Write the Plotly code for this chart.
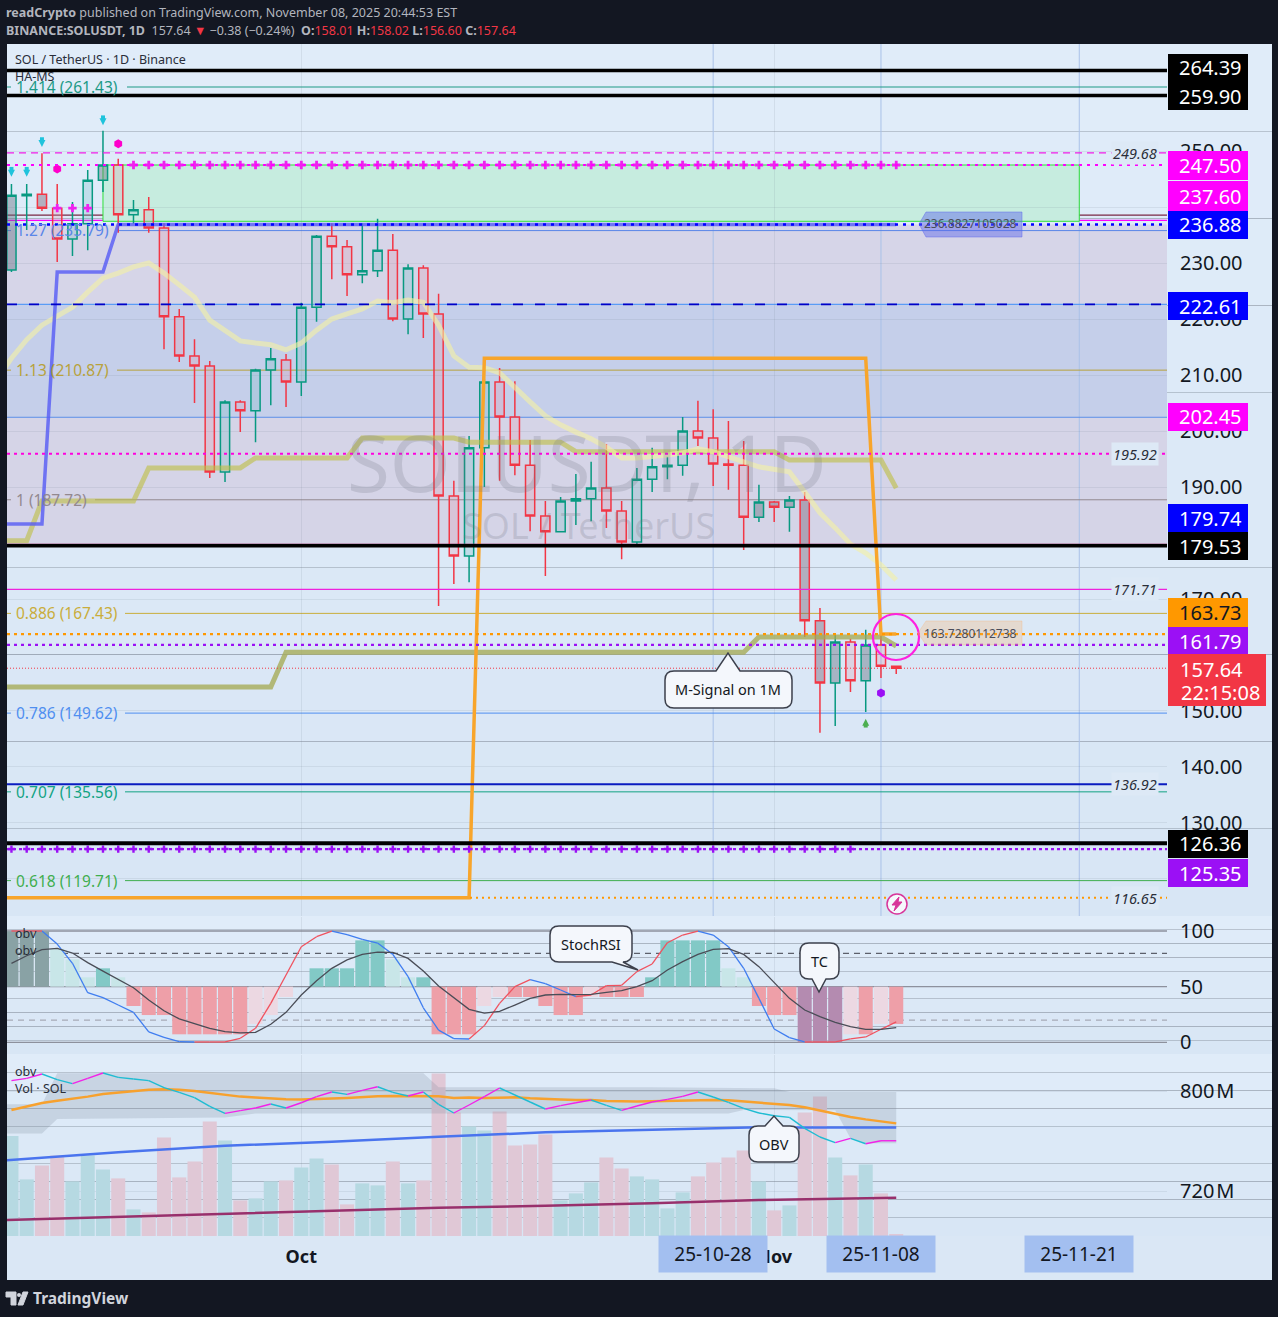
import pandas as pd
import plotly.graph_objects as go
from plotly.subplots import make_subplots

FONT = "Noto Sans"
INK = "#131722"

# daily bars, 2025-09-12 .. 2025-11-09
dates = pd.date_range("2025-09-12", "2025-11-09", freq="D")
dates_ext = pd.date_range("2025-09-11", "2025-11-09", freq="D")

opens = [228.75, 242.0, 242.3, 239.8, 234.3, 237.0, 244.8, 247.5, 238.6, 239.5,
         236.25, 220.4, 213.4, 211.6, 192.7, 205.2, 203.6, 210.9, 212.7, 208.75,
         222.1, 234.8, 232.9, 227.9, 228.6, 232.3, 220.0, 229.1, 220.9, 188.4,
         177.7, 197.0, 208.75, 202.5, 193.9, 184.8, 182.0, 187.5, 187.9, 189.8,
         185.7, 180.2, 191.4, 193.6, 193.9, 200.0, 198.75, 194.1, 193.9, 184.6,
         187.3, 186.4, 187.7, 166.1, 155.0, 162.3, 155.4, 161.8, 158.01]
highs = [244.1, 244.1, 249.6, 244.1, 240.9, 246.6, 253.6, 248.6, 241.25, 241.8,
         237.1, 221.8, 216.4, 212.5, 205.5, 205.5, 211.1, 214.8, 213.75, 222.9,
         235.0, 237.1, 234.1, 237.1, 237.9, 235.2, 229.8, 229.6, 224.5, 191.1,
         199.1, 209.3, 211.25, 208.9, 198.4, 187.5, 188.2, 192.3, 194.5, 197.7,
         187.5, 193.4, 197.0, 195.4, 202.5, 205.4, 203.9, 201.8, 198.2, 190.4,
         187.5, 188.4, 189.1, 168.4, 163.9, 162.9, 164.5, 165.0, 158.02]
lows = [228.4, 235.9, 239.3, 230.2, 231.25, 232.3, 242.7, 235.4, 237.0, 235.4,
        214.6, 212.3, 205.0, 191.6, 190.9, 199.8, 198.0, 204.6, 204.3, 206.25,
        219.5, 227.1, 224.1, 226.4, 227.5, 219.6, 217.3, 216.6, 168.75, 172.7,
        173.0, 190.0, 191.1, 192.1, 182.1, 174.1, 182.0, 183.2, 183.9, 182.7,
        177.1, 179.8, 189.1, 191.4, 192.0, 197.3, 190.2, 189.5, 178.75, 183.75,
        183.75, 182.0, 163.2, 146.1, 147.3, 153.4, 149.8, 155.9, 156.6]
closes = [242.1, 242.3, 239.8, 234.3, 237.0, 244.8, 247.5, 238.6, 239.5, 236.25,
          220.4, 213.4, 211.6, 192.7, 205.2, 203.6, 210.9, 212.9, 208.75, 222.1,
          234.8, 232.9, 227.9, 228.6, 232.3, 220.0, 229.1, 220.9, 188.4, 177.7,
          197.0, 208.75, 202.5, 193.9, 184.8, 182.0, 187.5, 187.9, 189.8, 185.7,
          180.2, 191.4, 193.6, 193.9, 200.0, 198.75, 194.1, 193.9, 184.6, 187.3,
          186.4, 187.7, 166.1, 155.0, 162.3, 155.4, 161.8, 158.0, 157.64]
# bars whose body reads darker in the picture
dark_bars = ["2025-09-12", "2025-09-13", "2025-09-14", "2025-09-18", "2025-10-31", "2025-11-01",
             "2025-11-02", "2025-11-03", "2025-11-04", "2025-11-05", "2025-11-07"]

pale_ma = [209.1, 213.0, 216.3, 218.9, 220.5, 222.1, 224.8, 227.3, 228.2, 229.3, 230.0,
           228.2, 226.1, 223.9, 219.8, 218.0, 216.1, 215.7, 215.4, 214.5, 215.7,
           218.0, 220.0, 220.9, 221.8, 223.2, 222.9, 223.4, 223.0, 218.9, 213.4,
           211.4, 211.3, 210.4, 207.7, 205.2, 202.7, 201.1, 199.8, 198.6, 197.1,
           195.2, 195.2, 195.4, 195.7, 196.1, 196.8, 196.3, 195.5, 194.5, 193.6,
           193.2, 192.7, 189.1, 185.4, 182.7, 179.8, 178.2, 176.1, 173.4]
ha_ms = [183.4] * 4 + [228.4] * 4 + [236.88] * 52
msignal_1w = [180.4] * 3 + [187.5] * 7 + [193.4] * 7 + [195.2] * 7 + [198.75] * 7 + [198.0] * 7 \
    + [196.3] * 14 + [194.8] * 7 + [189.8]
msignal_1m = [154.3] * 19 + [160.5] * 31 + [163.2] * 9 + [161.6]
step_1m = [116.65] * 32 + [213.0] * 26 + [163.73] * 2

cross_upper_dates = ["2025-09-15", "2025-09-16", "2025-09-17"]
cross_upper_vals = [239.8, 239.8, 239.8]
cross_top_dates = dates[8:]
cross_low_dates = dates[:56]
arrow_dn_dates = ["2025-09-12", "2025-09-13", "2025-09-14", "2025-09-18"]
arrow_dn_tips = [245.4, 245.4, 250.7, 254.6]
pink_dates = ["2025-09-15", "2025-09-19"]
pink_vals = [246.8, 251.3]

# fib levels: label, price, colour
fib_labels = ["1.414 (261.43)", "1.27 (235.79)", "1.13 (210.87)", "1 (187.72)",
              "0.886 (167.43)", "0.786 (149.62)", "0.707 (135.56)", "0.618 (119.71)"]
fib_prices = [261.43, 235.79, 210.87, 187.72, 167.43, 149.62, 135.56, 119.71]
fib_colors = ["#1c9a86", "#5a86e8", "#b8a23c", "#93898f", "#c9ad3c", "#4f8ff0", "#12a383", "#3fae4f"]

price_ticks = [120, 130, 140, 150, 160, 170, 180, 190, 200, 210, 220, 230, 240, 250, 260]
# 120, 160, 180, 240 and 260 sit fully behind a price tag in the picture
price_tick_text = ["", "130.00", "140.00", "150.00", "", "170.00", "", "190.00", "200.00", "210.00",
                   "220.00", "230.00", "", "250.00", ""]

# stochastic pane
hist_top = [99.7, 99.7, 99.7, 84.0, 74.6, 58.4, 66.5, 58.4, 32.6, 24.5,
            24.5, 7.2, 7.2, 7.2, 7.2, 7.2, 16.5, 24.5, 40.7, 50.0,
            66.5, 66.5, 66.5, 91.6, 91.6, 74.6, 58.4, 58.4, 7.2, 7.2,
            7.2, 32.6, 40.7, 40.7, 40.7, 32.6, 24.5, 24.5, 40.7, 40.7,
            40.7, 40.7, 58.4, 91.6, 91.6, 91.6, 91.6, 66.5, 58.4, 32.6,
            24.5, 24.5, 0.0, 0.0, 0.0, 7.2, 7.2, 16.5, 16.5]
hist_state = ["tc_up"] * 3 + ["up_weak"] * 3 + ["up"] + ["up_weak"] + ["down"] * 8 + ["down_weak"] * 3 + ["none"] \
    + ["up"] * 5 + ["up_weak"] * 2 + ["up"] + ["down"] * 3 + ["down_weak"] * 2 + ["down"] * 5 + ["down_weak"] \
    + ["down"] * 3 + ["up"] * 5 + ["up_weak"] * 2 + ["down"] * 3 + ["tc"] * 3 + ["down_weak", "down", "down_weak", "down"]
stoch_k = [100, 100, 100, 88.3, 71, 44.6, 40.1, 33.5, 26.9, 9.3,
           4.5, 0.6, 0.3, 0.3, 0.3, 3.6, 12.6, 35, 60.5, 85.9,
           94.9, 100, 96.7, 92.5, 89.2, 79, 59, 31, 11, 3.3,
           3, 15, 35, 50, 56.3, 52.7, 47, 41, 42.5, 50.9,
           51.2, 63.5, 70.4, 89.5, 96.4, 100, 96.4, 85.9, 66.5, 39.5,
           12, 4.2, 0.3, 0.3, 0.3, 3, 4.8, 11.7, 18.3]
stoch_d = [71, 77.8, 83.2, 84.4, 80.2, 71.6, 64, 56.6, 49.1, 38,
           28.4, 21, 16.5, 12.6, 9.6, 8.4, 9, 16.2, 26.9, 42.5,
           55.4, 66.5, 74, 79, 81.1, 80.8, 75.4, 64, 50.6, 40,
           29.6, 26.3, 27.8, 33.5, 39.5, 42.5, 43, 42.8, 43, 44.9,
           46.4, 50, 55.4, 65, 72.5, 79, 83.5, 84.1, 79, 68,
           53.6, 39.5, 29, 23, 18, 14, 11.7, 11.7, 13.2]

# volume pane
volume = [5.0, 2.83, 3.53, 4.03, 2.73, 4.03, 3.33, 2.88, 1.33, 1.18,
          4.93, 2.93, 3.73, 5.73, 4.78, 1.78, 1.88, 2.73, 2.78, 3.43,
          3.88, 3.58, 1.58, 2.63, 2.53, 3.73, 2.63, 2.78, 8.13, 6.18,
          5.48, 5.28, 6.23, 4.53, 4.58, 5.08, 1.78, 2.13, 2.68, 3.93,
          3.38, 2.98, 2.83, 1.38, 2.18, 2.98, 3.68, 3.93, 4.28, 2.73,
          1.28, 1.53, 6.18, 6.98, 3.93, 3.03, 3.58, 2.13, 0.08]
obv = [808.3, 810.1, 813.6, 809.1, 805.9, 810.1, 814.4, 810.9, 809.6, 808.3,
       802.7, 798.9, 794.7, 787.7, 782.1, 784.3, 786.4, 789.6, 786.4, 790.6,
       795.5, 799.2, 797.3, 800.5, 803.4, 798.9, 796.0, 799.2, 789.3, 782.4,
       788.8, 795.5, 802.4, 796.8, 791.2, 785.6, 788.3, 790.6, 792.8, 788.5,
       784.5, 788.0, 791.2, 793.3, 795.7, 799.2, 795.2, 790.9, 786.1, 782.4,
       780.2, 778.9, 770.1, 763.2, 758.7, 762.1, 757.8, 760.2, 760.2]
obv_ma = [784.8, 787.5, 790.4, 792.2, 793.6, 795.5, 797.6, 798.9, 800.0, 801.0,
          801.3, 801.0, 800.0, 798.6, 796.8, 795.5, 794.7, 793.9, 793.3, 793.1,
          793.3, 793.9, 794.4, 795.2, 795.7, 796.0, 796.0, 796.3, 795.7, 794.4,
          794.7, 794.4, 794.9, 794.9, 794.1, 793.3, 793.1, 792.8, 792.8, 792.0,
          791.5, 791.5, 791.7, 792.0, 792.5, 792.8, 792.8, 792.5, 791.7, 790.6,
          789.9, 788.8, 787.0, 784.3, 781.6, 779.2, 777.3, 775.5, 774.1]
slow_dates = ["2025-09-11", "2025-09-19", "2025-09-26", "2025-10-03", "2025-10-10",
              "2025-10-17", "2025-10-24", "2025-10-31", "2025-11-09"]
slow_blue = [744.0, 750.9, 756.2, 759.4, 763.4, 766.9, 769.0, 770.9, 770.7]
slow_maroon = [696.5, 699.2, 701.8, 704.2, 706.6, 708.2, 710.1, 712.8, 714.6]
band_up_dates = ["2025-09-11", "2025-09-14", "2025-09-15", "2025-10-09", "2025-10-10", "2025-10-24",
                 "2025-11-01", "2025-11-02", "2025-11-09"]
band_up = [789.3, 789.3, 814.1, 814.1, 803.0, 803.0, 802.1, 799.2, 799.2]
band_lo_dates = ["2025-09-11", "2025-09-14", "2025-09-15", "2025-09-26", "2025-09-28", "2025-10-29",
                 "2025-10-30", "2025-11-05", "2025-11-06", "2025-11-07", "2025-11-09"]
band_lo = [765.9, 765.9, 777.6, 778.7, 781.9, 781.9, 784.8, 784.5, 762.1, 758.1, 758.1]


def px(x):
    return (x - 7) / 1160


def py(y):
    return (1236 - y) / 1192


def stripes(top, bottom, left=7, right=1272, steps=10):
    out = []
    for i in range(steps):
        t = i / (steps - 1)
        rgb = (round(224 - 8 * t), round(236 - 6 * t), round(249 - 4 * t))
        y0 = top + (bottom - top) * i / steps
        y1 = top + (bottom - top) * (i + 1) / steps
        out.append(dict(type="rect", xref="paper", yref="paper", x0=px(left), x1=px(right), y0=py(y1), y1=py(y0),
                        fillcolor="rgb%s" % (rgb,), line_width=0, layer="below"))
    return out


def hline(price, color, width=1, dash="solid", left=7, right=1167, layer="above"):
    return dict(type="line", xref="x domain", yref="y", x0=px(left), x1=px(right), y0=price, y1=price,
                line=dict(color=color, width=width, dash=dash), layer=layer)


def text(x, y, s, size=13, color=INK, anchor="left", **kw):
    return dict(xref="paper", yref="paper", x=px(x), y=py(y), text=s, showarrow=False, xanchor=anchor,
                yanchor="middle", font=dict(family=FONT, size=size, color=color), **kw)


def callout(x0, y0, x1, y1, tip, side, base):
    r = 9
    bx0, bx1 = base
    P = lambda a, b: "%.5f %.5f" % (px(a), py(b))
    d = "M" + P(x0 + r, y0)
    if side == "top":
        d += " L" + P(bx0, y0) + " L" + P(*tip) + " L" + P(bx1, y0)
    d += " L" + P(x1 - r, y0) + " Q" + P(x1, y0) + " " + P(x1, y0 + r)
    d += " L" + P(x1, y1 - r) + " Q" + P(x1, y1) + " " + P(x1 - r, y1)
    if side == "bottom":
        d += " L" + P(bx1, y1) + " L" + P(*tip) + " L" + P(bx0, y1)
    d += " L" + P(x0 + r, y1) + " Q" + P(x0, y1) + " " + P(x0, y1 - r)
    d += " L" + P(x0, y0 + r) + " Q" + P(x0, y0) + " " + P(x0 + r, y0) + " Z"
    return dict(type="path", xref="paper", yref="paper", path=d, fillcolor="#f4f7fc",
                line=dict(color="#3c404c", width=1.5), layer="above")


def poly(points, fill, line=None):
    d = "M" + " L".join("%.5f %.5f" % (px(a), py(b)) for a, b in points) + " Z"
    return dict(type="path", xref="paper", yref="paper", path=d, fillcolor=fill,
                line=dict(color=line or fill, width=1), layer="above")


fig = make_subplots(rows=3, cols=1, shared_xaxes=True, vertical_spacing=0.001,
                    specs=[[{}], [{}], [{"secondary_y": True}]])

# candles
dark_idx = [i for i, d in enumerate(dates) if d.strftime("%Y-%m-%d") in dark_bars]
light_idx = [i for i in range(len(dates)) if i not in dark_idx]
for idx, up_fill, dn_fill in [(light_idx, "rgba(125,190,200,0.30)", "rgba(225,150,170,0.26)"),
                              (dark_idx, "rgba(95,110,125,0.42)", "rgba(120,95,115,0.42)")]:
    fig.add_trace(go.Candlestick(x=dates[idx], open=[opens[i] for i in idx], high=[highs[i] for i in idx],
                                 low=[lows[i] for i in idx], close=[closes[i] for i in idx], whiskerwidth=0,
                                 increasing=dict(line=dict(color="#089981", width=1.5), fillcolor=up_fill),
                                 decreasing=dict(line=dict(color="#f23645", width=1.5), fillcolor=dn_fill),
                                 hoverinfo="skip"), row=1, col=1)

fig.add_trace(go.Scatter(x=dates_ext, y=msignal_1w, mode="lines", line=dict(color="rgba(190,190,70,0.62)", width=5)), row=1, col=1)
fig.add_trace(go.Scatter(x=dates_ext, y=msignal_1m, mode="lines", line=dict(color="rgba(165,170,85,0.78)", width=5)), row=1, col=1)
fig.add_trace(go.Scatter(x=dates_ext, y=pale_ma, mode="lines", line=dict(color="rgba(243,240,165,0.62)", width=5)), row=1, col=1)
fig.add_trace(go.Scatter(x=dates_ext, y=ha_ms, mode="lines", line=dict(color="rgba(85,90,245,0.8)", width=3.5)), row=1, col=1)
fig.add_trace(go.Scatter(x=dates_ext, y=step_1m, mode="lines", line=dict(color="#f8a52b", width=3.5)), row=1, col=1)

fig.add_trace(go.Scatter(x=cross_upper_dates, y=cross_upper_vals, mode="markers",
                         marker=dict(symbol="cross", size=7, color="#ee22ee", line_width=0)), row=1, col=1)
fig.add_trace(go.Scatter(x=cross_top_dates, y=[247.5] * len(cross_top_dates), mode="markers",
                         marker=dict(symbol="cross", size=7, color="#ee22ee", line_width=0)), row=1, col=1)
fig.add_trace(go.Scatter(x=cross_low_dates, y=[125.35] * len(cross_low_dates), mode="markers",
                         marker=dict(symbol="cross", size=6, color="#9b10f5", line_width=0)), row=1, col=1)
# arrows: head anchored on its tip, plus a short stem behind it
fig.add_trace(go.Scatter(x=arrow_dn_dates, y=[t + 1.4 for t in arrow_dn_tips], mode="markers",
                         marker=dict(symbol="square", size=4, color="#1fc3dc", line_width=0)), row=1, col=1)
fig.add_trace(go.Scatter(x=arrow_dn_dates, y=arrow_dn_tips, mode="markers",
                         marker=dict(symbol="arrow-down", size=7, color="#1fc3dc", line_width=0)), row=1, col=1)
fig.add_trace(go.Scatter(x=pink_dates, y=pink_vals, mode="markers",
                         marker=dict(symbol="hexagon", size=9, color="#ff00cc", line_width=0)), row=1, col=1)
fig.add_trace(go.Scatter(x=["2025-11-08"], y=[153.2], mode="markers",
                         marker=dict(symbol="hexagon", size=9, color="#9b10f5", line_width=0)), row=1, col=1)
fig.add_trace(go.Scatter(x=["2025-11-07"], y=[147.4], mode="markers",
                         marker=dict(symbol="square", size=4, color="#4caf50", line_width=0)), row=1, col=1)
fig.add_trace(go.Scatter(x=["2025-11-07"], y=[148.6], mode="markers",
                         marker=dict(symbol="arrow-up", size=7, color="#4caf50", line_width=0)), row=1, col=1)

# stochastic pane
state_color = {"tc_up": "#89a2a5", "up": "#82c9c6", "up_weak": "#c8e6e8", "down": "#ee9fa8", "down_weak": "#ecd8e2",
               "tc": "#b48bb0", "none": "rgba(0,0,0,0)"}
fig.add_trace(go.Bar(x=dates, y=[v - 50 for v in hist_top], base=50, width=86400000 * 0.92,
                     marker=dict(color=[state_color[s] for s in hist_state], line_width=0)), row=2, col=1)
rise_x, rise_y, fall_x, fall_y = [], [], [], []
for i in range(1, len(stoch_k)):
    if stoch_k[i] >= stoch_k[i - 1]:
        rise_x += [dates[i - 1], dates[i], None]
        rise_y += [stoch_k[i - 1], stoch_k[i], None]
    else:
        fall_x += [dates[i - 1], dates[i], None]
        fall_y += [stoch_k[i - 1], stoch_k[i], None]
fig.add_trace(go.Scatter(x=fall_x, y=fall_y, mode="lines", line=dict(color="#3f7df0", width=1.3)), row=2, col=1)
fig.add_trace(go.Scatter(x=rise_x, y=rise_y, mode="lines", line=dict(color="#f0525f", width=1.3)), row=2, col=1)
fig.add_trace(go.Scatter(x=dates, y=stoch_d, mode="lines", line=dict(color="#4a4d57", width=1.3)), row=2, col=1)

# volume pane: bars on the primary scale, obv lines on the secondary one so they draw on top
vol_colors = ["#e0c8d6" if c < o else "#b6d9e2" for o, c in zip(opens, closes)]
fig.add_trace(go.Bar(x=dates, y=volume, width=86400000 * 0.92, marker=dict(color=vol_colors, line_width=0)),
              row=3, col=1)
fig.add_trace(go.Scatter(x=band_up_dates + band_lo_dates[::-1], y=band_up + band_lo[::-1], mode="lines",
                         fill="toself", fillcolor="rgba(120,130,150,0.22)", line=dict(width=0)),
              row=3, col=1, secondary_y=True)
fig.add_trace(go.Scatter(x=slow_dates, y=slow_blue, mode="lines", line=dict(color="#4a74ee", width=2.5)),
              row=3, col=1, secondary_y=True)
fig.add_trace(go.Scatter(x=slow_dates, y=slow_maroon, mode="lines", line=dict(color="#98306c", width=2.5)),
              row=3, col=1, secondary_y=True)
fig.add_trace(go.Scatter(x=dates, y=obv_ma, mode="lines", line=dict(color="#f7a12e", width=2.5)),
              row=3, col=1, secondary_y=True)
obv_up_x, obv_up_y, obv_dn_x, obv_dn_y = [], [], [], []
for i in range(1, len(obv)):
    if obv[i] >= obv[i - 1]:
        obv_up_x += [dates[i - 1], dates[i], None]
        obv_up_y += [obv[i - 1], obv[i], None]
    else:
        obv_dn_x += [dates[i - 1], dates[i], None]
        obv_dn_y += [obv[i - 1], obv[i], None]
fig.add_trace(go.Scatter(x=obv_dn_x, y=obv_dn_y, mode="lines", line=dict(color="#1fbcd2", width=1.4)),
              row=3, col=1, secondary_y=True)
fig.add_trace(go.Scatter(x=obv_up_x, y=obv_up_y, mode="lines", line=dict(color="#f222e8", width=1.4)),
              row=3, col=1, secondary_y=True)

shapes = []
shapes += stripes(44, 916) + stripes(916, 1054) + stripes(1054, 1236)
shapes.append(dict(type="rect", xref="paper", yref="paper", x0=px(7), x1=px(1272), y0=py(1280), y1=py(1236),
                   fillcolor="#dae7f5", line_width=0, layer="below"))

# fib zones and the green box sit under the grid
for top, bot, col in [(236.88, 222.61, "#d6d5e8"), (222.61, 202.45, "#c5cfea"), (202.45, 179.74, "#d5d4e7")]:
    shapes.append(dict(type="rect", xref="x domain", yref="y", x0=0, x1=1, y0=bot, y1=top,
                       fillcolor=col, line_width=0, layer="below"))
shapes.append(dict(type="rect", xref="x", yref="y", x0="2025-09-18", x1="2025-11-21", y0=237.45, y1=247.5,
                   fillcolor="#c6ecdf", line=dict(color="#2fe03a", width=1), layer="below"))

# vertical markers
for day in ["2025-10-28", "2025-11-08", "2025-11-21"]:
    shapes.append(dict(type="line", xref="x", yref="y domain", x0=day, x1=day, y0=0, y1=1,
                       line=dict(color="#a9c1e8", width=1), layer="below"))

# fib lines, broken by their labels
fib_starts = [127, 119, 117, 95, 125, 125, 125, 125]
for p, c, st in zip(fib_prices, fib_colors, fib_starts):
    shapes.append(hline(p, c, 1, left=st, layer="below"))
    shapes.append(hline(p, c, 1, left=7, right=11, layer="below"))

shapes += [
    hline(238.55, "#7a2745", 1.2, layer="below"),
    hline(237.60, "#ff00ff", 1.2, layer="below"),
    hline(236.88, "#0000ff", 2.5, "3px,5px"),
    hline(264.39, "#000000", 3.5), hline(259.90, "#000000", 3.5),
    hline(249.68, "#f01fe8", 1.2, "7px,5px"),
    hline(247.50, "#ff00ff", 2.2, "3px,5px"),
    hline(222.61, "#5a9cf5", 1.2, layer="below"),
    hline(222.61, "#0000c8", 1.8, "10px,12px"),
    hline(202.45, "#5b8ee8", 1, layer="below"),
    hline(195.92, "#ff00e0", 2, "3px,4px"),
    hline(179.74, "#8a0a4c", 1.5), hline(179.53, "#000000", 3.5),
    hline(171.71, "#ee22dd", 1.2),
    hline(163.73, "#ff9800", 2.2, "3px,4px"),
    hline(161.79, "#9b10f5", 2.2, "3px,4px"),
    hline(157.64, "#f23645", 1, "1px,2px"),
    hline(136.92, "#0a1cc0", 2.2),
    hline(126.36, "#000000", 4),
    hline(125.35, "#9b10f5", 2.2, "3px,3px"),
    hline(116.65, "#ff9800", 1.8, "2px,4px", left=470),
]

# reference levels in the lower panes
for lev, col, dsh in [(100, "#8d919d", "solid"), (50, "#8d919d", "solid"), (0, "#8d919d", "solid"),
                      (80, "#5c606b", "6px,5px"), (20, "#a7abb6", "6px,5px")]:
    shapes.append(dict(type="line", xref="x2 domain", yref="y2", x0=0, x1=1, y0=lev, y1=lev,
                       line=dict(color=col, width=1.3, dash=dsh), layer="below"))

# circle, floating tags and callouts
shapes.append(dict(type="circle", xref="paper", yref="paper", x0=px(873), x1=px(919), y0=py(660), y1=py(614),
                   line=dict(color="#ff20e0", width=2.2), layer="above"))
shapes.append(poly([(919, 224), (926, 212), (1022, 212), (1022, 237), (926, 237)], "rgba(90,100,235,0.45)"))
shapes.append(poly([(918, 633), (926, 621), (1022, 621), (1022, 645), (926, 645)], "rgba(255,170,90,0.25)"))
shapes.append(callout(665, 671, 792, 708, (728, 653), "top", (716, 740)))
shapes.append(callout(550, 926, 632, 962, (638, 970), "bottom", (612, 623)))
shapes.append(callout(800, 943, 839, 979, (819, 992), "bottom", (812, 826)))
shapes.append(callout(749, 1126, 799, 1162, (774, 1116), "top", (765, 783)))

# alert badge
shapes.append(dict(type="circle", xref="paper", yref="paper", x0=px(887), x1=px(907), y0=py(914), y1=py(894),
                   fillcolor="#f6f8fc", line=dict(color="#d8359a", width=1.5), layer="above"))
shapes.append(poly([(899, 897), (892, 905), (896, 905), (894, 911), (902, 902), (898, 902)], "#d8359a"))

# right hand price tags
tags = [(54, 82, "#000000"), (82, 110, "#000000"), (151, 180, "#ff00ff"), (181, 211, "#ff00ff"),
        (211, 239, "#0000ff"), (292, 320, "#0000ff"), (403, 431, "#ff00ff"), (504, 532, "#0000ff"),
        (532, 560, "#000000"), (598, 627, "#ff9800"), (627, 655, "#9b10f5"), (830, 858, "#000000"),
        (859, 887, "#9b10f5")]
tag_text = ["264.39", "259.90", "247.50", "237.60", "236.88", "222.61", "202.45", "179.74", "179.53",
            "163.73", "161.79", "126.36", "125.35"]
tag_ink = ["#ffffff"] * 9 + [INK, "#ffffff", "#ffffff", "#ffffff"]
annotations = []
for (t, b, c), s, ink in zip(tags, tag_text, tag_ink):
    shapes.append(dict(type="rect", xref="paper", yref="paper", x0=px(1168), x1=px(1248), y0=py(b), y1=py(t),
                       fillcolor=c, line_width=0, layer="above"))
    annotations.append(text(1210, (t + b) / 2, s, 20, ink, "center"))
shapes.append(dict(type="rect", xref="paper", yref="paper", x0=px(1168), x1=px(1266), y0=py(706), y1=py(654),
                   fillcolor="#f23645", line_width=0, layer="above"))
annotations += [text(1211, 669, "157.64", 20, "#ffffff", "center"), text(1220, 692, "22:15:08", 20, "#ffffff", "center")]

# TradingView logo
shapes.append(poly([(6, 1292), (16, 1292), (16, 1305), (11, 1305), (11, 1297), (6, 1297)], "#d1d4dc"))
shapes.append(dict(type="circle", xref="paper", yref="paper", x0=px(17), x1=px(21), y0=py(1297), y1=py(1293),
                   fillcolor="#d1d4dc", line_width=0, layer="above"))
shapes.append(poly([(23, 1292), (28, 1292), (23, 1305), (18, 1305)], "#d1d4dc"))

header1 = "<b>readCrypto</b> published on TradingView.com, November 08, 2025 20:44:53 EST"
header2 = ("<b>BINANCE:SOLUSDT, 1D</b>  157.64 <span style='color:#f23645'>▼</span> −0.38 (−0.24%)  "
           "<b>O:</b><span style='color:#f23645'>158.01</span> <b>H:</b><span style='color:#f23645'>158.02</span> "
           "<b>L:</b><span style='color:#f23645'>156.60</span> <b>C:</b><span style='color:#f23645'>157.64</span>")
annotations += [text(4, 13, header1, 12.5, "#b2b5be"), text(4, 30, header2, 12.5, "#b2b5be")]
annotations += [
    text(13, 60, "SOL / TetherUS · 1D · Binance", 12.5, "#2a2e39"),
    text(13, 77, "HA-MS", 12.5, "#2a2e39"),
    text(13, 933, "obv", 12.5, "#2a2e39"), text(13, 950, "obv", 12.5, "#2a2e39"),
    text(13, 1071, "obv", 12.5, "#2a2e39"), text(13, 1088, "Vol · SOL", 12.5, "#2a2e39"),
    text(587, 462, "SOLUSDT, 1D", 78, "rgba(110,113,128,0.22)", "center"),
    text(588, 525, "SOL / TetherUS", 36, "rgba(110,113,128,0.22)", "center"),
    text(31, 1298, "<b>TradingView</b>", 15.5, "#d1d4dc"),
    text(728, 689, "M-Signal on 1M", 14.5, INK, "center"),
    text(591, 944, "StochRSI", 14.5, INK, "center"),
    text(819, 961, "TC", 14.5, INK, "center"),
    text(774, 1144, "OBV", 14.5, INK, "center"),
    text(970, 224, "236.8827105028", 12, "#4a4d5a", "center"),
    text(970, 633, "163.7280112738", 12, "#4a4d5a", "center"),
]
fib_label_y = [87, 230, 370, 500, 613, 713, 792, 881]
for lab, p, c, ly in zip(fib_labels, fib_prices, fib_colors, fib_label_y):
    annotations.append(text(14, ly, lab, 15.5, c))
for s, p in zip(["249.68", "195.92", "171.71", "136.92", "116.65"], [249.68, 195.92, 171.71, 136.92, 116.65]):
    annotations.append(dict(xref="paper", yref="y", x=px(1135), y=p, text="<i>%s</i>" % s, showarrow=False,
                            xanchor="center", yanchor="middle", bgcolor="#dde9f6",
                            font=dict(family=FONT, size=14.5, color="#2a2e39")))
for day, lab in [("2025-10-28", "25-10-28"), ("2025-11-08", "25-11-08"), ("2025-11-21", "25-11-21")]:
    annotations.append(dict(xref="x", yref="paper", x=day, y=py(1254), text=lab, showarrow=False, xanchor="center",
                            yanchor="middle", width=108, height=36, bgcolor="#a3bff0", borderpad=0,
                            font=dict(family=FONT, size=19, color=INK)))

fig.update_layout(
    width=1278, height=1317, margin=dict(l=7, r=111, t=44, b=81, autoexpand=False),
    paper_bgcolor="#131722", plot_bgcolor="rgba(0,0,0,0)", showlegend=False, barmode="overlay",
    font=dict(family=FONT, color=INK), shapes=shapes, annotations=annotations, boxgap=0.14,
    hovermode=False,
)

grid = "rgba(110,120,140,0.13)"
x_range = ["2025-09-11 17:00", "2025-11-26 18:00"]
month_ticks = ["2025-10-01", "2025-11-01"]
fig.update_xaxes(domain=[0, 1], range=x_range, rangeslider_visible=False, showgrid=True, gridcolor=grid,
                 tickvals=month_ticks, ticktext=["<b>Oct</b>", "<b>Nov</b>"], zeroline=False, showline=False, ticks="")
fig.update_xaxes(showticklabels=False, row=1, col=1)
fig.update_xaxes(showticklabels=False, row=2, col=1)
fig.update_xaxes(showticklabels=True, tickfont=dict(size=18, family=FONT, color=INK), ticklabelstandoff=8, row=3, col=1)

axis_font = dict(size=20, family=FONT, color=INK)
fig.update_layout(
    yaxis=dict(domain=[py(916), 1], range=[113.39, 269.11], side="right", tickvals=price_ticks,
               ticktext=price_tick_text, gridcolor=grid, zeroline=False, tickfont=axis_font, ticks="",
               ticklabelstandoff=12),
    yaxis2=dict(domain=[py(1054), py(917)], range=[-10.5, 112.6], side="right", tickvals=[0, 50, 100],
                showgrid=False, zeroline=False, tickfont=axis_font, ticks="", ticklabelstandoff=12),
    yaxis3=dict(domain=[0, py(1055)], range=[0, 9.05], side="left", showgrid=False, showticklabels=False,
                zeroline=False, ticks=""),
    yaxis4=dict(domain=[0, py(1055)], range=[684, 828.8], side="right", tickvals=[720, 800],
                ticktext=["720\u200aM", "800\u200aM"], gridcolor=grid, zeroline=False, tickfont=axis_font, ticks="",
                ticklabelstandoff=12),
)

fig.write_html("out.html", config={"displayModeBar": False},
               post_script="document.body.style.margin='0';document.body.style.background='#131722';")
